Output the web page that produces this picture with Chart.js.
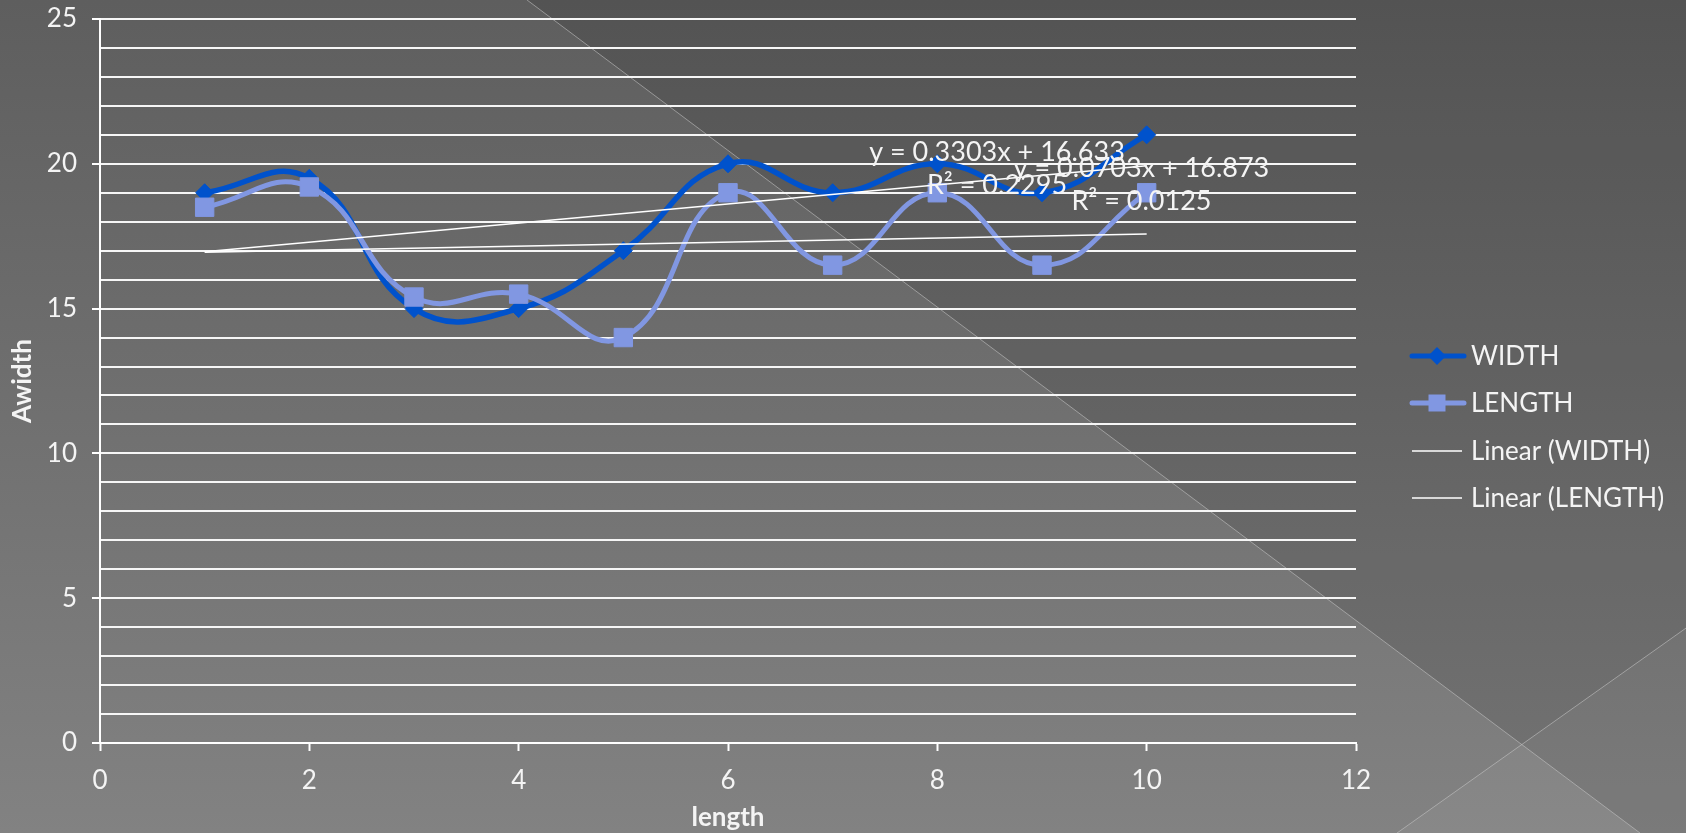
<!DOCTYPE html>
<html>
<head>
<meta charset="utf-8">
<script src="https://cdn.jsdelivr.net/npm/chart.js@4/dist/chart.umd.min.js"></script>
<style>
  html, body { margin: 0; padding: 0; overflow: hidden; background: #6e6e6e; }
  canvas { display: block; }
</style>
</head>
<body>
<canvas id="chart" width="1686" height="833"></canvas>
<script>
// ---- data ----
const xValues      = [1, 2, 3, 4, 5, 6, 7, 8, 9, 10];
const widthValues  = [19, 19.5, 15, 15, 17, 20, 19, 20, 19, 21];
const lengthValues = [18.5, 19.2, 15.4, 15.5, 14, 19, 16.5, 19, 16.5, 19];
const seriesNames  = ['WIDTH', 'LENGTH'];
const trendNames   = ['Linear (WIDTH)', 'Linear (LENGTH)'];
const trendSlopes     = [0.3303, 0.0703];
const trendIntercepts = [16.633, 16.873];
const trendR2         = ['0.2295', '0.0125'];
const trendRange      = [1, 10];
const xTicks = [0, 2, 4, 6, 8, 10, 12];
const yLabelEvery = 5;
const xTitle = 'length';
const yTitle = 'Awidth';

// ---- styling ----
const FONT = 'Lato, "Open Sans", sans-serif';
const TEXT = '#f4f4f4';
const WIDTH_COLOR  = '#0052cc';
const LENGTH_COLOR = '#8197e2';
const TREND_COLOR  = '#ffffff';

// where the trendline equations sit, in axis units
const equationAnchors = [ { x: 8.57, y: 20.41 }, { x: 9.95, y: 19.83 } ];
const equationLineGap = 33;

const trendPoints = (i) => trendRange.map(x => ({ x, y: trendIntercepts[i] + trendSlopes[i] * x }));
const toXY = (ys) => xValues.map((x, i) => ({ x, y: ys[i] }));

// slide-style backdrop: vertical grey ramp cut by two faint diagonals
const backdrop = {
  id: 'backdrop',
  beforeDraw(chart) {
    const { ctx, width: w, height: h } = chart;
    ctx.save();
    const g = ctx.createLinearGradient(0, 0, 0, h);
    g.addColorStop(0, '#5e5e5e');
    g.addColorStop(1, '#828282');
    ctx.fillStyle = g;
    ctx.fillRect(0, 0, w, h);

    const a0 = { x: 0.3126 * w, y: 0 }, a1 = { x: 0.9727 * w, y: h };
    const b0 = { x: 0.8286 * w, y: h }, b1 = { x: w, y: 0.754 * h };

    ctx.beginPath();
    ctx.moveTo(a0.x, a0.y); ctx.lineTo(a1.x, a1.y); ctx.lineTo(w, h); ctx.lineTo(w, 0); ctx.closePath();
    ctx.fillStyle = 'rgba(0,0,0,0.11)';
    ctx.fill();

    ctx.beginPath();
    ctx.moveTo(b0.x, b0.y); ctx.lineTo(b1.x, b1.y); ctx.lineTo(w, h); ctx.closePath();
    ctx.fillStyle = 'rgba(255,255,255,0.05)';
    ctx.fill();

    ctx.strokeStyle = 'rgba(200,200,200,0.55)';
    ctx.lineWidth = 1;
    ctx.beginPath();
    ctx.moveTo(a0.x, a0.y); ctx.lineTo(a1.x, a1.y);
    ctx.moveTo(b0.x, b0.y); ctx.lineTo(b1.x, b1.y);
    ctx.stroke();
    ctx.restore();
  }
};

function drawMarker(ctx, style, x, y, color) {
  ctx.fillStyle = color;
  ctx.beginPath();
  if (style === 'diamond') {
    const r = 9;
    ctx.moveTo(x, y - r); ctx.lineTo(x + r, y); ctx.lineTo(x, y + r); ctx.lineTo(x - r, y); ctx.closePath();
  } else {
    const s = 8.5;
    ctx.rect(x - s, y - s, 2 * s, 2 * s);
  }
  ctx.fill();
}

// trendline equations and the legend on the right
const annotations = {
  id: 'annotations',
  afterDatasetsDraw(chart) {
    const { ctx, scales: { x, y } } = chart;
    ctx.save();
    ctx.fillStyle = TEXT;
    ctx.font = '27px ' + FONT;
    ctx.textAlign = 'center';
    ctx.textBaseline = 'middle';
    equationAnchors.forEach((a, i) => {
      const px = x.getPixelForValue(a.x), py = y.getPixelForValue(a.y);
      ctx.fillText('y = ' + trendSlopes[i] + 'x + ' + trendIntercepts[i], px, py);
      ctx.fillText('R² = ' + trendR2[i], px, py + equationLineGap);
    });

    // legend
    const lx = 1410, len = 56, tx = 1471;
    const rows = [356, 403, 451, 498];
    const items = [
      { label: seriesNames[0], color: WIDTH_COLOR, marker: 'diamond', lw: 5 },
      { label: seriesNames[1], color: LENGTH_COLOR, marker: 'square', lw: 5 },
      { label: trendNames[0], color: TREND_COLOR, marker: null, lw: 1.5 },
      { label: trendNames[1], color: TREND_COLOR, marker: null, lw: 1.5 }
    ];
    ctx.font = '26px ' + FONT;
    ctx.textAlign = 'left';
    items.forEach((it, i) => {
      const cy = rows[i];
      ctx.strokeStyle = it.color;
      ctx.lineWidth = it.lw;
      ctx.lineCap = it.marker ? 'round' : 'butt';
      ctx.beginPath();
      ctx.moveTo(lx + 2, cy);
      ctx.lineTo(lx + len - (it.marker ? 2 : 4), cy);
      ctx.stroke();
      if (it.marker) drawMarker(ctx, it.marker, lx + len / 2 - 1, cy, it.color);
      ctx.fillStyle = TEXT;
      ctx.fillText(it.label, tx, cy + 1);
    });
    ctx.restore();
  }
};

new Chart(document.getElementById('chart'), {
  type: 'scatter',
  data: {
    datasets: [
      {
        label: trendNames[0], data: trendPoints(0), showLine: true,
        borderColor: TREND_COLOR, borderWidth: 1.5, pointRadius: 0, order: 1
      },
      {
        label: trendNames[1], data: trendPoints(1), showLine: true,
        borderColor: TREND_COLOR, borderWidth: 1.5, pointRadius: 0, order: 2
      },
      {
        label: seriesNames[1], data: toXY(lengthValues), showLine: true, tension: 0.45,
        borderColor: LENGTH_COLOR, borderWidth: 5, backgroundColor: LENGTH_COLOR,
        pointStyle: 'rect', pointRadius: 13, pointBorderWidth: 1, pointBorderColor: LENGTH_COLOR, order: 3
      },
      {
        label: seriesNames[0], data: toXY(widthValues), showLine: true, tension: 0.45,
        borderColor: WIDTH_COLOR, borderWidth: 5.5, backgroundColor: WIDTH_COLOR,
        pointStyle: 'rectRot', pointRadius: 9, pointBorderWidth: 1, pointBorderColor: WIDTH_COLOR, order: 4
      }
    ]
  },
  options: {
    responsive: false,
    animation: false,
    events: [],
    layout: { padding: { top: 19, right: 330, bottom: 0, left: 0 } },
    plugins: { legend: { display: false }, tooltip: { enabled: false } },
    scales: {
      x: {
        type: 'linear', min: 0, max: 12,
        afterBuildTicks: (s) => { s.ticks = xTicks.map(v => ({ value: v })); },
        afterFit: (s) => { s.height = 90; s.paddingLeft = 0; s.paddingRight = 0; },
        grid: { drawOnChartArea: false, drawTicks: true, tickLength: 8, tickColor: '#ffffff', tickWidth: 2 },
        border: { display: true, color: '#ffffff', width: 2 },
        ticks: { color: TEXT, font: { family: FONT, size: 26 }, padding: 14, maxRotation: 0 },
        title: { display: true, text: xTitle, color: TEXT, font: { family: FONT, size: 26, weight: 'bold' }, padding: { top: 0, bottom: 0 } }
      },
      y: {
        type: 'linear', min: 0, max: 25,
        afterFit: (s) => { s.width = 100; s.paddingTop = 0; s.paddingBottom = 0; },
        grid: {
          color: '#f6f6f6', lineWidth: 2, drawTicks: true, tickLength: 8, tickWidth: 2,
          tickColor: (c) => (c.tick && c.tick.value % yLabelEvery === 0 ? '#ffffff' : 'rgba(0,0,0,0)')
        },
        border: { display: true, color: '#ffffff', width: 2 },
        ticks: {
          stepSize: 1, autoSkip: false, color: TEXT, padding: 15,
          font: { family: FONT, size: 26 },
          callback: (v) => (v % yLabelEvery === 0 ? String(v) : '')
        },
        title: { display: true, text: yTitle, color: TEXT, font: { family: FONT, size: 26, weight: 'bold' }, padding: { top: 7, bottom: 0 } }
      }
    }
  },
  plugins: [backdrop, annotations]
});
</script>
</body>
</html>
